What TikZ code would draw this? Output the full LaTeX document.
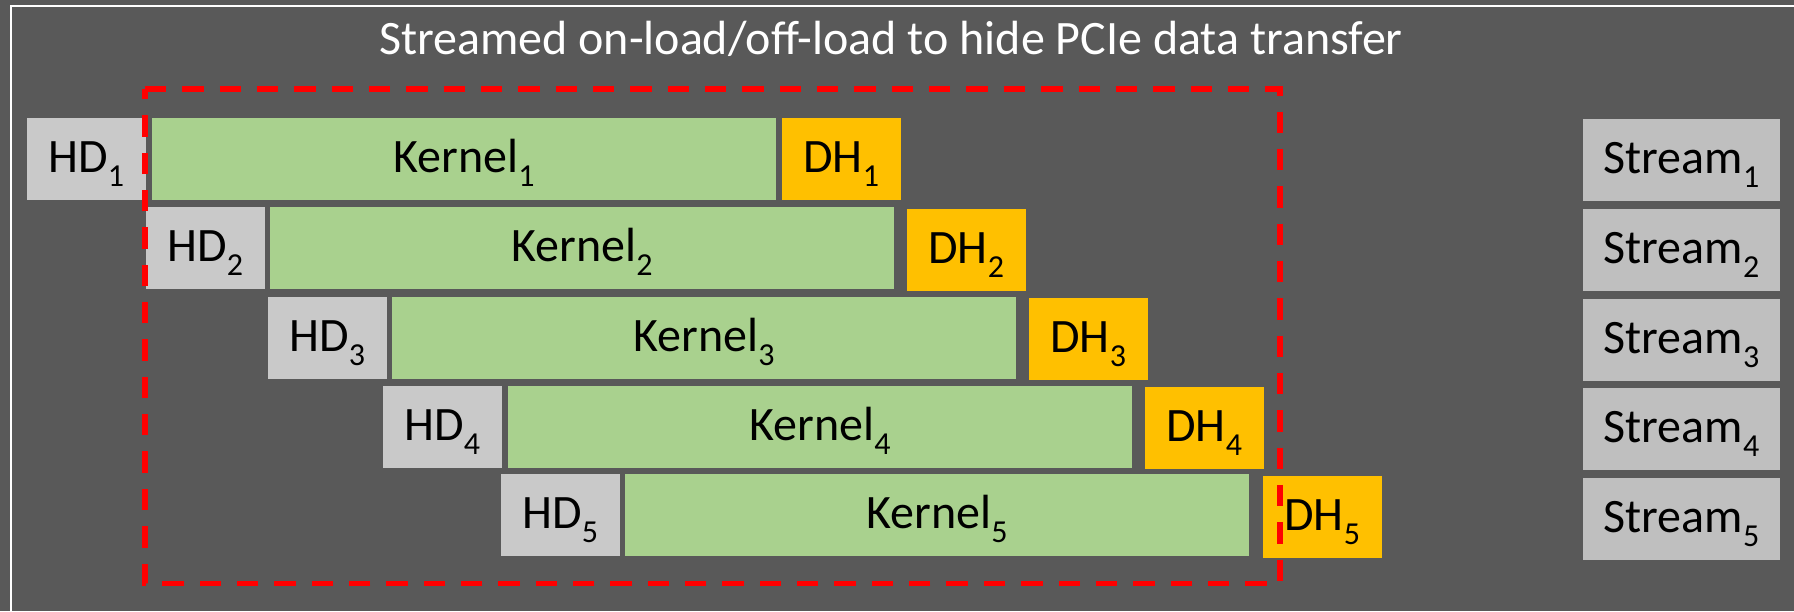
\documentclass[tikz,border=0pt]{standalone}
\usepackage{fontspec}
\setmainfont{Carlito}
\definecolor{bgc}{HTML}{595959}
\definecolor{hdc}{HTML}{C9C9C9}
\definecolor{stc}{HTML}{BFBFBF}
\definecolor{knc}{HTML}{A9D18E}
\definecolor{dhc}{HTML}{FFC000}
\definecolor{redc}{HTML}{FF0000}
\newcommand\lowidx[1]{\raisebox{-0.3em}{\fontsize{16pt}{17pt}\selectfont #1}}
\begin{document}
\begin{tikzpicture}[x=0.5pt,y=-0.5pt,
  box/.style={anchor=north west, inner sep=0pt, outer sep=0pt, minimum height=41pt,
              text height=13.5pt, text depth=0pt, font=\fontsize{24}{28}\selectfont, text=black},
  hdbox/.style={box, fill=hdc, minimum width=59.25pt},
  knbox/.style={box, fill=knc, minimum width=312pt},
  dhbox/.style={box, fill=dhc, minimum width=59.25pt},
  stbox/.style={box, fill=stc, minimum width=98.5pt},
  titletext/.style={anchor=base, inner sep=0pt, text=white, font=\fontsize{24}{28}\selectfont},
  framel/.style={draw=white, line width=1pt},
  hidebox/.style={draw=redc, line width=2.67pt, dash pattern=on 10.67pt off 8pt}]
\useasboundingbox (0,0) rectangle (1794,611);
\fill[bgc] (0,0) rectangle (1794,611);
\coordinate (fbl) at (11,611);
\coordinate (ftl) at (11,6);
\coordinate (ftr) at (1794,6);
\draw[framel] (fbl) -- (ftl) -- (ftr);
\node[titletext] (title) at (891,54) {Streamed on-load/off-load to hide PCIe data transfer};
\foreach \i/\y/\h/\k/\d/\dy/\s in {1/118/27/152/782/118/119,
                                     2/207/146/270/907/209/209,
                                     3/297/268/392/1029/298/299,
                                     4/386/383/508/1145/387/388,
                                     5/474/501/625/1263/476/478}{
  \node[hdbox] (hd\i) at (\h,\y) {HD\lowidx{\i}};
  \node[knbox] (kn\i) at (\k,\y) {Kernel\lowidx{\i}};
  \node[dhbox] (dh\i) at (\d,\dy) {DH\lowidx{\i}};
  \node[stbox] (st\i) at (1583,\s) {Stream\lowidx{\i}};
}
\coordinate (rtl) at (145,89);
\coordinate (rtr) at (1280,89);
\coordinate (rbr) at (1280,583.5);
\coordinate (rbl) at (145,583.5);
\draw[hidebox] (rtl) -- (rtr) -- (rbr) -- (rbl) -- cycle;
\end{tikzpicture}
\end{document}
